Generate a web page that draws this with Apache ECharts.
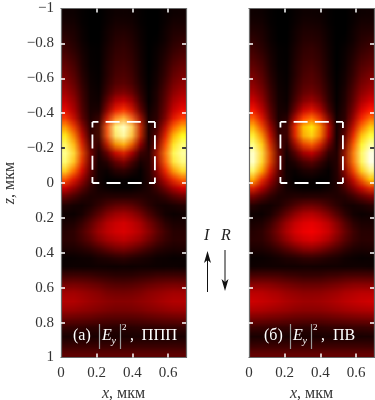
<!DOCTYPE html>
<html lang="ru">

<head>
    <meta charset="UTF-8">
    <title>|Ey|^2, ППП и ПВ</title>
    <script src="https://cdn.jsdelivr.net/npm/echarts/dist/echarts.min.js"></script>
    <style>
        body {
            margin: 0;
            background: #fff;
        }

        #figure {
            position: relative;
            width: 375px;
            height: 400px;
            overflow: hidden;
        }

        /* heat charts are 1px per cell, the browser smooths them when scaled up */
        .heat {
            position: absolute;
            top: 8.5px;
            width: 15px;
            height: 40px;
            transform-origin: 0 0;
            transform: scale(8.3333, 8.725);
        }

        #heatA { left: 61px; }
        #heatB { left: 249px; }

        #frame {
            position: absolute;
            left: 0;
            top: 0;
            width: 375px;
            height: 400px;
        }
    </style>
</head>

<body>
    <div id="figure">
        <div id="heatA" class="heat"></div>
        <div id="heatB" class="heat"></div>
        <div id="frame"></div>
    </div>

    <script>
        // intensity: 40 rows (z from -1 to 1), 15 columns (x from 0 to 0.7)
        // 0 = black, 33 = red, 67 = yellow, 100 = white
        const intensityA = [
            [2, 2, 1, 0, 0, 1, 2, 2, 2, 1, 0, 0, 1, 2, 2],
            [3, 3, 1, 0, 0, 1, 3, 3, 3, 1, 0, 0, 1, 3, 3],
            [4, 4, 2, 0, 0, 2, 4, 4, 4, 2, 0, 0, 2, 4, 4],
            [6, 5, 2, 0, 0, 2, 5, 6, 5, 2, 0, 0, 2, 5, 6],
            [8, 6, 3, 1, 0, 3, 6, 7, 6, 3, 0, 1, 3, 6, 8],
            [10, 8, 4, 1, 0, 3, 7, 8, 7, 3, 0, 1, 4, 8, 10],
            [13, 10, 5, 1, 0, 4, 8, 9, 8, 4, 0, 1, 5, 10, 13],
            [15, 12, 6, 2, 0, 4, 9, 10, 9, 4, 0, 2, 6, 12, 15],
            [18, 14, 7, 2, 0, 5, 10, 12, 10, 5, 0, 2, 7, 14, 18],
            [21, 17, 9, 3, 0, 6, 12, 14, 12, 6, 0, 3, 9, 17, 21],
            [25, 20, 10, 3, 0, 9, 20, 23, 20, 9, 0, 3, 10, 20, 25],
            [30, 24, 12, 4, 0, 12, 28, 34, 28, 12, 0, 4, 12, 24, 30],
            [38, 27, 12, 4, 2, 22, 42, 56, 42, 22, 2, 4, 12, 27, 38],
            [52, 40, 20, 5, 2, 38, 80, 94, 80, 38, 2, 5, 20, 40, 52],
            [68, 52, 28, 7, 2, 42, 84, 100, 84, 42, 2, 7, 28, 52, 68],
            [80, 62, 36, 10, 2, 28, 58, 72, 58, 28, 2, 10, 36, 62, 80],
            [88, 76, 45, 18, 2, 12, 30, 42, 30, 12, 2, 18, 45, 76, 88],
            [88, 76, 44, 18, 2, 5, 14, 22, 14, 5, 2, 18, 44, 76, 88],
            [75, 58, 36, 15, 3, 1, 7, 10, 7, 1, 3, 15, 36, 58, 75],
            [52, 40, 26, 12, 3, 0, 1, 2, 1, 0, 3, 12, 26, 40, 52],
            [32, 25, 16, 8, 3, 1, 0, 0, 0, 1, 3, 8, 16, 25, 32],
            [17, 13, 8, 5, 4, 4, 3, 3, 3, 4, 4, 5, 8, 13, 17],
            [6, 5, 3, 3, 5, 8, 10, 10, 10, 8, 5, 3, 3, 5, 6],
            [2, 1, 2, 5, 9, 14, 18, 20, 18, 14, 9, 5, 2, 1, 2],
            [3, 3, 5, 10, 15, 22, 25, 27, 25, 22, 15, 10, 5, 3, 3],
            [5, 5, 9, 14, 20, 25, 28, 30, 28, 25, 20, 14, 9, 5, 5],
            [6, 6, 9, 13, 18, 23, 25, 27, 25, 23, 18, 13, 9, 6, 6],
            [5, 5, 6, 8, 11, 15, 18, 20, 18, 15, 11, 8, 6, 5, 5],
            [2, 2, 3, 3, 5, 6, 8, 9, 8, 6, 5, 3, 3, 2, 2],
            [0, 0, 0, 0, 1, 1, 1, 2, 1, 1, 1, 0, 0, 0, 0],
            [6, 6, 6, 6, 5, 5, 4, 4, 4, 5, 5, 6, 6, 6, 6],
            [13, 13, 13, 12, 11, 10, 9, 9, 9, 10, 11, 12, 13, 13, 13],
            [20, 20, 19, 18, 17, 15, 14, 14, 14, 15, 17, 18, 19, 20, 20],
            [24, 24, 23, 21, 20, 19, 18, 18, 18, 19, 20, 21, 23, 24, 24],
            [22, 22, 21, 20, 19, 18, 17, 17, 17, 18, 19, 20, 21, 22, 22],
            [16, 16, 15, 15, 14, 13, 13, 13, 13, 13, 14, 15, 15, 16, 16],
            [9, 9, 9, 8, 8, 8, 7, 7, 7, 8, 8, 8, 9, 9, 9],
            [3, 3, 3, 3, 3, 3, 3, 3, 3, 3, 3, 3, 3, 3, 3],
            [5, 5, 5, 5, 5, 5, 5, 5, 5, 5, 5, 5, 5, 5, 5],
            [12, 12, 12, 12, 12, 12, 12, 12, 12, 12, 12, 12, 12, 12, 12]
        ];

        const intensityB = [
            [2, 2, 1, 0, 0, 1, 2, 2, 2, 1, 0, 0, 1, 2, 2],
            [3, 3, 1, 0, 0, 1, 3, 3, 3, 1, 0, 0, 1, 3, 3],
            [4, 4, 2, 0, 0, 2, 4, 4, 4, 2, 0, 0, 2, 4, 4],
            [6, 5, 2, 0, 0, 2, 5, 5, 5, 2, 0, 0, 2, 5, 6],
            [8, 6, 3, 1, 0, 3, 6, 7, 6, 3, 0, 1, 3, 6, 8],
            [10, 8, 4, 1, 0, 3, 7, 8, 7, 3, 0, 1, 4, 8, 10],
            [12, 10, 5, 1, 0, 4, 8, 9, 8, 4, 0, 1, 5, 10, 12],
            [15, 12, 6, 2, 0, 4, 9, 11, 9, 4, 0, 2, 6, 12, 15],
            [18, 14, 7, 2, 0, 5, 10, 12, 10, 5, 0, 2, 7, 14, 18],
            [21, 17, 9, 3, 0, 6, 12, 14, 12, 6, 0, 3, 9, 17, 21],
            [26, 20, 10, 3, 0, 7, 15, 18, 15, 7, 0, 3, 10, 20, 26],
            [33, 25, 13, 4, 0, 9, 22, 27, 22, 9, 0, 4, 13, 25, 33],
            [44, 32, 15, 3, 1, 16, 34, 43, 34, 16, 1, 3, 15, 32, 44],
            [58, 42, 22, 5, 1, 30, 56, 66, 56, 30, 1, 5, 22, 42, 58],
            [72, 54, 30, 7, 1, 32, 60, 72, 60, 32, 1, 7, 30, 54, 72],
            [85, 66, 38, 10, 1, 22, 44, 54, 44, 22, 1, 10, 38, 66, 85],
            [96, 76, 46, 16, 1, 10, 24, 31, 24, 10, 1, 16, 46, 76, 96],
            [100, 78, 47, 18, 1, 5, 11, 16, 11, 5, 1, 18, 47, 78, 100],
            [92, 66, 40, 16, 2, 1, 5, 7, 5, 1, 2, 16, 40, 66, 92],
            [68, 46, 28, 12, 3, 0, 1, 2, 1, 0, 3, 12, 28, 46, 68],
            [42, 30, 18, 9, 3, 1, 0, 0, 0, 1, 3, 9, 18, 30, 42],
            [20, 15, 9, 5, 4, 4, 3, 3, 3, 4, 4, 5, 9, 15, 20],
            [7, 5, 3, 3, 5, 8, 10, 11, 10, 8, 5, 3, 3, 5, 7],
            [2, 1, 2, 5, 10, 15, 20, 22, 20, 15, 10, 5, 2, 1, 2],
            [3, 3, 5, 11, 17, 24, 27, 29, 27, 24, 17, 11, 5, 3, 3],
            [5, 5, 9, 15, 22, 28, 31, 33, 31, 28, 22, 15, 9, 5, 5],
            [6, 6, 9, 14, 20, 26, 29, 31, 29, 26, 20, 14, 9, 6, 6],
            [5, 5, 6, 9, 13, 17, 21, 23, 21, 17, 13, 9, 6, 5, 5],
            [2, 2, 3, 4, 6, 7, 9, 10, 9, 7, 6, 4, 3, 2, 2],
            [0, 0, 0, 0, 1, 1, 2, 2, 2, 1, 1, 0, 0, 0, 0],
            [7, 7, 7, 7, 6, 6, 5, 5, 5, 6, 6, 7, 7, 7, 7],
            [15, 15, 15, 14, 13, 12, 11, 11, 11, 12, 13, 14, 15, 15, 15],
            [23, 23, 22, 21, 19, 18, 17, 17, 17, 18, 19, 21, 22, 23, 23],
            [28, 27, 26, 25, 23, 22, 21, 21, 21, 22, 23, 25, 26, 27, 28],
            [25, 25, 24, 23, 22, 21, 20, 20, 20, 21, 22, 23, 24, 25, 25],
            [18, 18, 17, 17, 16, 15, 15, 15, 15, 15, 16, 17, 17, 18, 18],
            [10, 10, 10, 9, 9, 9, 8, 8, 8, 9, 9, 9, 10, 10, 10],
            [3, 3, 3, 3, 3, 3, 3, 3, 3, 3, 3, 3, 3, 3, 3],
            [5, 5, 5, 5, 5, 5, 5, 5, 5, 5, 5, 5, 5, 5, 5],
            [13, 13, 13, 13, 13, 13, 13, 13, 13, 13, 13, 13, 13, 13, 13]
        ];

        const xTicks = [0.2, 0.4, 0.6];
        const zTicks = [-0.8, -0.6, -0.4, -0.2, 0, 0.2, 0.4, 0.6, 0.8];
        const xLabels = [0, 0.2, 0.4, 0.6];
        const zLabels = [-1, -0.8, -0.6, -0.4, -0.2, 0, 0.2, 0.4, 0.6, 0.8, 1];
        const darkTickZ = -0.2; // this tick is black on the yellow lobes
        const boxX = [0.176, 0.526];
        const boxZ = [-0.35, 0];

        const SERIF = '"Liberation Serif", "Times New Roman", serif';

        function drawHeat(id, rows) {
            const data = [];
            rows.forEach(function (row, j) {
                row.forEach(function (v, i) {
                    data.push([i, j, v]);
                });
            });
            const chart = echarts.init(document.getElementById(id));
            chart.setOption({
                animation: false,
                grid: { left: 0, right: 0, top: 0, bottom: 0, outerBoundsMode: 'none' },
                xAxis: { type: 'category', show: false, data: rows[0].map(function (v, i) { return i; }) },
                yAxis: { type: 'category', show: false, inverse: true, data: rows.map(function (r, j) { return j; }) },
                visualMap: {
                    show: false,
                    min: 0,
                    max: 100,
                    inRange: { color: ['#000000', '#ff0000', '#ffff00', '#ffffff'] }
                },
                series: [{ type: 'heatmap', silent: true, data: data }]
            });
        }

        drawHeat('heatA', intensityA);
        drawHeat('heatB', intensityB);

        // frame chart: axes, ticks, dashed box and text on top of the heat maps
        const panels = [{ left: 61 }, { left: 249 }];
        const tickLine = { color: '#ffffff', width: 1.5 };
        const frameLine = { show: true, onZero: false, lineStyle: { color: '#6a6a6a', width: 1.2 } };

        const grids = [], xAxes = [], yAxes = [], series = [];

        panels.forEach(function (p, n) {
            grids.push({ left: p.left, top: 8.5, width: 125, height: 349, outerBoundsMode: 'none' });

            // bottom + top
            ['bottom', 'top'].forEach(function (pos) {
                xAxes.push({
                    type: 'value', gridIndex: n, position: pos, min: 0, max: 0.7, interval: 0.1,
                    splitLine: { show: false }, axisLine: frameLine,
                    axisTick: { show: true, inside: true, length: 4, lineStyle: tickLine, customValues: xTicks },
                    axisLabel: {
                        show: pos === 'bottom', margin: 8, fontFamily: SERIF, fontSize: 15, color: '#333',
                        customValues: xLabels, hideOverlap: false
                    },
                    name: pos === 'bottom' ? '{i|x}, мкм' : '',
                    nameLocation: 'middle', nameGap: 26,
                    nameTextStyle: {
                        fontFamily: SERIF, fontSize: 16, color: '#333',
                        rich: { i: { fontFamily: SERIF, fontSize: 16, fontStyle: 'italic', color: '#333' } }
                    }
                });
            });

            // left + right
            ['left', 'right'].forEach(function (pos) {
                const labelled = pos === 'left' && n === 0;
                yAxes.push({
                    type: 'value', gridIndex: n, position: pos, inverse: true, min: -1, max: 1, interval: 0.2,
                    splitLine: { show: false }, axisLine: frameLine,
                    axisTick: { show: true, inside: true, length: 4, lineStyle: tickLine, customValues: zTicks },
                    axisLabel: {
                        show: labelled, margin: 7, fontFamily: SERIF, fontSize: 15, color: '#333',
                        customValues: zLabels,
                        formatter: function (v) { return String(v).replace('-', '\u2212'); }
                    },
                    name: labelled ? '{i|z}, мкм' : '',
                    nameLocation: 'middle', nameGap: 43,
                    nameTextStyle: {
                        fontFamily: SERIF, fontSize: 16, color: '#333',
                        rich: { i: { fontFamily: SERIF, fontSize: 16, fontStyle: 'italic', color: '#333' } }
                    }
                });
            });

            const xi = n * 2, yi = n * 2;

            // dashed box, side by side so that each corner gets the same short dash
            [
                [[boxX[0], boxZ[0]], [boxX[1], boxZ[0]]],
                [[boxX[1], boxZ[0]], [boxX[1], boxZ[1]]],
                [[boxX[1], boxZ[1]], [boxX[0], boxZ[1]]],
                [[boxX[0], boxZ[1]], [boxX[0], boxZ[0]]]
            ].forEach(function (side) {
                series.push({
                    type: 'line', xAxisIndex: xi, yAxisIndex: yi, data: side, symbol: 'none', silent: true,
                    lineStyle: { color: '#ffffff', width: 1.8, type: [14, 7.2], dashOffset: 8, cap: 'butt' }
                });
            });

            // black ticks at z = -0.2
            [[0, 0.022], [0.678, 0.7]].forEach(function (xs) {
                series.push({
                    type: 'line', xAxisIndex: xi, yAxisIndex: yi, symbol: 'none', silent: true,
                    data: [[xs[0], darkTickZ], [xs[1], darkTickZ]],
                    lineStyle: { color: '#000000', width: 1.5 }
                });
            });
        });

        // y is the text baseline; the library places text from its top edge
        function label(x, y, text, size, italic, fill) {
            return {
                type: 'text', x: x, y: y - size * 0.9, z: 10, silent: true,
                style: {
                    text: text, fill: fill || '#ffffff',
                    font: (italic ? 'italic ' : '') + size + 'px ' + SERIF
                }
            };
        }

        function bar(x) {
            return {
                type: 'line', z: 10, silent: true,
                shape: { x1: x, y1: 324, x2: x, y2: 349 },
                style: { stroke: '#9a9a9a', lineWidth: 1.2 }
            };
        }

        function arrow(x, yTail, yTip) {
            const dir = yTip < yTail ? 1 : -1;
            return [{
                type: 'line', z: 10, silent: true,
                shape: { x1: x, y1: yTail, x2: x, y2: yTip + dir * 6 },
                style: { stroke: '#111', lineWidth: 1 }
            }, {
                type: 'polygon', z: 10, silent: true,
                shape: { points: [[x, yTip], [x + 3.5, yTip + dir * 12], [x, yTip + dir * 9], [x - 3.5, yTip + dir * 12]] },
                style: { fill: '#111' }
            }];
        }

        const graphics = [
            label(73, 342, '(а)', 16),
            bar(99.5), bar(120.5),
            label(102, 342, 'E', 16, true),
            label(111.5, 345, 'y', 10, true),
            label(122, 331, '2', 9),
            label(130, 342, ',', 16),
            label(141.5, 342, 'ППП', 16.5),

            label(264, 342, '(б)', 16),
            bar(290.5), bar(311.5),
            label(293, 342, 'E', 16, true),
            label(302.5, 345, 'y', 10, true),
            label(313, 331, '2', 9),
            label(321, 342, ',', 16),
            label(333, 342, 'ПВ', 16),

            label(204, 242, 'I', 16, true, '#222'),
            label(221, 242, 'R', 16, true, '#222')
        ].concat(arrow(207.5, 292, 251), arrow(225, 250, 291));

        const frame = echarts.init(document.getElementById('frame'));
        frame.setOption({
            animation: false,
            grid: grids,
            xAxis: xAxes,
            yAxis: yAxes,
            series: series,
            graphic: graphics
        });
    </script>
</body>

</html>
